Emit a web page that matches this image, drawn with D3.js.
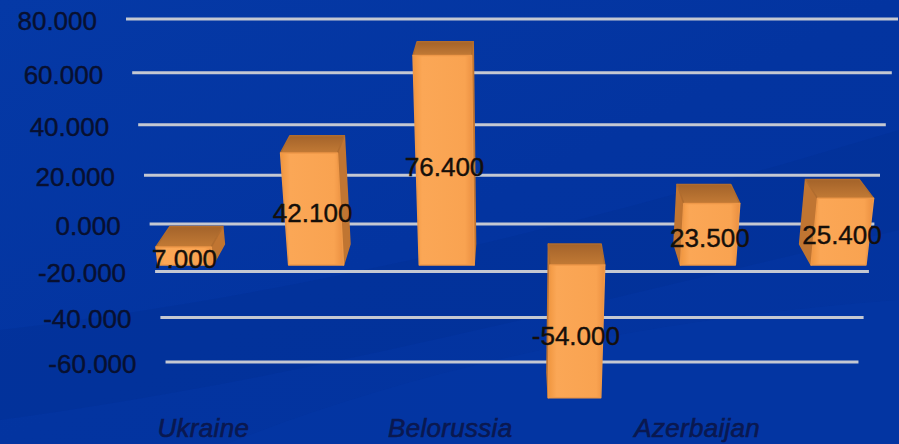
<!DOCTYPE html>
<html><head><meta charset="utf-8">
<script src="https://cdn.jsdelivr.net/npm/d3@7"></script>
<style>html,body{margin:0;padding:0;background:#0335a2;overflow:hidden}</style>
</head><body><svg id="c" width="899" height="444"></svg>
<script>
// ---- data ----
const categories = ["Ukraine", "", "Belorussia", "", "Azerbaijan", ""];
const values = [7.0, 42.1, 76.4, -54.0, 23.5, 25.4];
const valueLabels = ["7.000", "42.100", "76.400", "-54.000", "23.500", "25.400"];
const yTicks = [80, 60, 40, 20, 0, -20, -40, -60];
const yTickLabels = ["80.000", "60.000", "40.000", "20.000", "0.000", "-20.000", "-40.000", "-60.000"];
const floorValue = -70;

// ---- perspective set-up ----
const W = 899, H = 444;
const F = 1000, CX = 512, CY = 19;
const up = [2.73, 0.815];                    // world (Ydown, Z) step per value unit along the wall
const nrm = [0.286, -0.958];                 // wall normal toward viewer
const dFront = 83.6, dBack = 42.5;           // bar front / back distance from wall

const y = d3.scaleLinear().domain([80, -60]).range([0, 140]);
const x = d3.scaleBand().domain(d3.range(values.length)).range([-386, 386])
  .paddingInner(0.58).paddingOuter(0.29);

function project(X, u, d) {
  const Y = up[0] * u + nrm[0] * d;
  const Z = 1000 + up[1] * u + nrm[1] * d;
  return [CX + F * X / Z, CY + F * Y / Z];
}
const poly = pts => "M" + pts.map(p => p.join(",")).join("L") + "Z";

const svg = d3.select("#c");
const defs = svg.append("defs");

// background
const bg = defs.append("linearGradient").attr("id", "bg").attr("x1", 0).attr("y1", 0).attr("x2", 1).attr("y2", 1);
bg.append("stop").attr("offset", 0).attr("stop-color", "#0539a6");
bg.append("stop").attr("offset", 0.5).attr("stop-color", "#0334a0");
bg.append("stop").attr("offset", 1).attr("stop-color", "#03339e");
svg.append("rect").attr("width", W).attr("height", H).attr("fill", "url(#bg)");
svg.append("path").attr("d", "M0,330 C250,300 500,250 899,130 L899,230 C600,300 300,380 0,420 Z")
  .attr("fill", "#012a8c").attr("opacity", 0.25);
svg.append("path").attr("d", "M0,560 C200,430 500,330 899,300 L899,444 L0,444 Z")
  .attr("fill", "#0638a8").attr("opacity", 0.35);

// gridlines
const [xl, xr] = x.range();
svg.append("g").selectAll("line").data(yTicks).join("line")
  .each(function (v) {
    const a = project(xl, y(v), 0), b = project(xr, y(v), 0);
    d3.select(this).attr("x1", a[0]).attr("y1", a[1]).attr("x2", b[0]).attr("y2", b[1]);
  })
  .attr("stroke", "#c4c8d2").attr("stroke-width", 3);

// tick labels
svg.append("g").selectAll("text").data(yTicks).join("text")
  .each(function (v, i) {
    const a = project(xl, y(v), 0);
    d3.select(this).attr("x", a[0] - 29).attr("y", a[1] + 2).text(yTickLabels[i]);
  })
  .attr("text-anchor", "end").attr("dominant-baseline", "central")
  .attr("font-family", "Liberation Sans, Arial, sans-serif").attr("font-size", 26)
  .attr("fill", "#081030").attr("stroke", "#081030").attr("stroke-width", 0.4);

// gradients for bars
const gFront = defs.append("linearGradient").attr("id", "gf").attr("x1", 0).attr("x2", 1).attr("y1", 0).attr("y2", 0);
gFront.append("stop").attr("offset", 0).attr("stop-color", "#f0963f");
gFront.append("stop").attr("offset", 0.15).attr("stop-color", "#fba756");
gFront.append("stop").attr("offset", 0.85).attr("stop-color", "#f9a351");
gFront.append("stop").attr("offset", 1).attr("stop-color", "#ea8f40");
const gTop = defs.append("linearGradient").attr("id", "gt").attr("x1", 0).attr("x2", 0).attr("y1", 0).attr("y2", 1);
gTop.append("stop").attr("offset", 0).attr("stop-color", "#a4632a");
gTop.append("stop").attr("offset", 1).attr("stop-color", "#c27a35");

// bars
const bars = svg.append("g");
values.forEach((v, i) => {
  const x0 = x(i), x1 = x0 + x.bandwidth();
  const uT = y(Math.max(v, 0)), uB = y(Math.min(v, 0));
  const g = bars.append("g");
  const sx = (x0 + x1) / 2 < 0 ? x1 : x0;
  g.append("path").attr("d", poly([project(sx, uT, dFront), project(sx, uT, dBack), project(sx, uB, dBack), project(sx, uB, dFront)]))
    .attr("fill", "#c07532").attr("stroke", "#c07532").attr("stroke-width", 1.5).attr("stroke-linejoin", "round");
  g.append("path").attr("d", poly([project(x0, uT, dBack), project(x1, uT, dBack), project(x1, uT, dFront), project(x0, uT, dFront)]))
    .attr("fill", "url(#gt)").attr("stroke", "#b06c2e").attr("stroke-width", 1.5).attr("stroke-linejoin", "round");
  g.append("path").attr("d", poly([project(x0, uT, dFront), project(x1, uT, dFront), project(x1, uB, dFront), project(x0, uB, dFront)]))
    .attr("fill", "url(#gf)").attr("stroke", "#ee9848").attr("stroke-width", 1.5).attr("stroke-linejoin", "round");
});

// value labels
svg.append("g").selectAll("text").data(values).join("text")
  .each(function (v, i) {
    const p = project(x(i) + x.bandwidth() / 2, y(v / 2), dFront);
    d3.select(this).attr("x", p[0]).attr("y", p[1] + 3).text(valueLabels[i]);
  })
  .attr("text-anchor", "middle").attr("dominant-baseline", "central")
  .attr("font-family", "Liberation Sans, Arial, sans-serif").attr("font-size", 26)
  .attr("fill", "#150f0a").attr("stroke", "#150f0a").attr("stroke-width", 0.4);

// category labels
svg.append("g").selectAll("text").data(categories).join("text")
  .each(function (c, i) {
    const p = project(x(i) + x.bandwidth() / 2, y(floorValue), dFront);
    d3.select(this).attr("x", p[0]).attr("y", p[1] + 2).text(c);
  })
  .attr("text-anchor", "middle")
  .attr("font-family", "Liberation Sans, Arial, sans-serif").attr("font-size", 26)
  .attr("font-style", "italic").attr("letter-spacing", 0.3)
  .attr("fill", "#0a1850").attr("stroke", "#0a1850").attr("stroke-width", 0.6);
</script></body></html>
